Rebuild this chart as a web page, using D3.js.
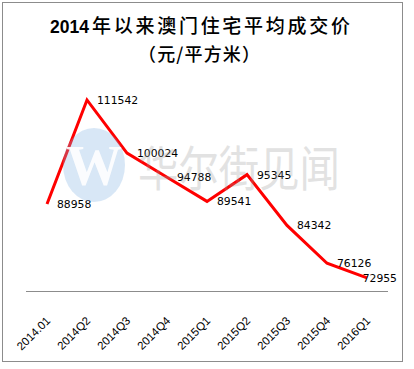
<!DOCTYPE html>
<html><head><meta charset="utf-8">
<script src="https://cdn.jsdelivr.net/npm/d3@7/dist/d3.min.js"></script>
<style>body{margin:0;background:#fff}svg{display:block}</style>
</head><body>
<script>
const categories = ["2014.01","2014Q2","2014Q3","2014Q4","2015Q1","2015Q2","2015Q3","2015Q4","2016Q1"];
const prices = [88958,111542,100024,94788,89541,95345,84342,76126,72955];
const yDomain = [70000,115000];
const titleYear = "2014";
const titleRest = "年以来澳门住宅平均成交价";
const subtitle = "（元/平方米）";
const watermarkText = "华尔街见闻";

const W=414,H=369;
const svg=d3.select("body").append("svg").attr("width",W).attr("height",H);
svg.append("rect").attr("x",0).attr("y",0).attr("width",W).attr("height",H).attr("fill","#fff");
// frame
svg.append("rect").attr("x",2.5).attr("y",2.5).attr("width",400).attr("height",359)
  .attr("fill","none").attr("stroke","#8c8c8c").attr("stroke-width",1);

// title
const t1=svg.append("text").attr("x",50).attr("y",33).attr("fill","#000");
t1.append("tspan").attr("font-family","'Liberation Sans',Arial,sans-serif").attr("font-weight","bold").attr("font-size",17.5).text(titleYear);
t1.append("tspan").attr("x",92).attr("font-family","'Noto Sans CJK SC',sans-serif").attr("font-weight","500")
  .attr("font-size",19).attr("textLength",258).attr("lengthAdjust","spacing").text(titleRest);
svg.append("text").attr("x",138).attr("y",61).attr("font-family","'Noto Sans CJK SC',sans-serif")
  .attr("font-weight","500").attr("font-size",18).attr("textLength",122).attr("lengthAdjust","spacing").attr("fill","#000").text(subtitle);

const x=d3.scaleBand().domain(categories).range([27,387]).paddingInner(0).paddingOuter(0);
const y=d3.scaleLinear().domain(yDomain).range([291.5,84]);
const cx=d=>x(d)+x.bandwidth()/2;

// x axis
const ax=svg.append("g").attr("transform","translate(0,291.5)")
  .call(d3.axisBottom(x).tickSize(0).tickSizeOuter(0).tickPadding(0));
ax.select(".domain").attr("stroke","#8c8c8c").attr("stroke-width",1).attr("d","M26,0H388");
ax.selectAll(".tick text").attr("font-family","'Liberation Sans',Arial,sans-serif").attr("font-size",11.5)
  .attr("fill","#000").attr("text-anchor","end").attr("dy",0)
  .attr("transform","translate(4,30) rotate(-45)");

// line
const data=categories.map((c,i)=>({c,v:prices[i]}));
svg.append("path").datum(data).attr("fill","none").attr("stroke","#ff0000").attr("stroke-width",3)
  .attr("stroke-linejoin","miter")
  .attr("d",d3.line().x(d=>cx(d.c)).y(d=>y(d.v)));

// labels
svg.append("g").selectAll("text").data(data).join("text")
  .attr("font-family","'DejaVu Sans',Verdana,sans-serif").attr("font-size",10.8).attr("fill","#000")
  .attr("y",d=>y(d.v)+4).text(d=>d.v)
  .each(function(d){const w=this.getComputedTextLength();d3.select(this).attr("x",Math.min(cx(d.c)+10,397-w));});

// watermark
const wm=svg.append("g");
wm.append("ellipse").attr("cx",94).attr("cy",165).attr("rx",31).attr("ry",37).attr("fill","#7fb0e0").attr("opacity",0.3);
wm.append("text").attr("x",94).attr("y",185).attr("text-anchor","middle").attr("font-family","'Liberation Serif',serif")
  .attr("font-weight","bold").attr("font-size",56).attr("fill","#fff").attr("opacity",0.9).text("W");
wm.append("text").attr("x",138).attr("y",186).attr("font-family","'Noto Sans CJK SC',sans-serif")
  .attr("font-size",48).attr("textLength",202).attr("lengthAdjust","spacingAndGlyphs")
  .attr("fill","#999").attr("opacity",0.28).text(watermarkText);
</script>
</body></html>
